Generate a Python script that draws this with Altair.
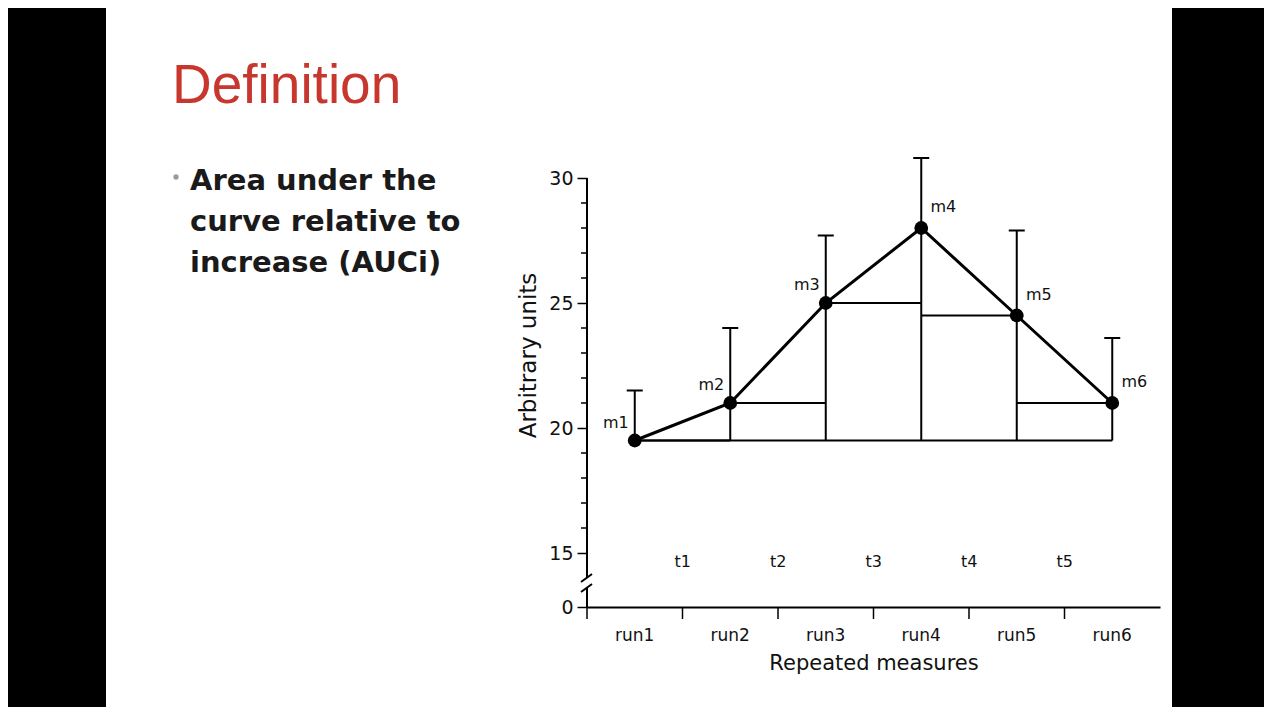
import altair as alt
import pandas as pd

# ---- data ----
runs = ["run1", "run2", "run3", "run4", "run5", "run6"]
means = [19.5, 21.0, 25.0, 28.0, 24.5, 21.0]
upper = [21.5, 24.0, 27.7, 30.8, 27.9, 23.6]
point_labels = ["m1", "m2", "m3", "m4", "m5", "m6"]
interval_labels = ["t1", "t2", "t3", "t4", "t5"]
y_tick_values = [12.84, 15, 20, 25, 30]          # 12.84 is where the broken axis shows "0"
y_minor_ticks = [16, 17, 18, 19, 21, 22, 23, 24, 26, 27, 28, 29]
bullet_lines = ["Area under the", "curve relative to", "increase (AUCi)"]
slide_title = "Definition"

FONT = "DejaVu Sans"
INK = "#111111"

df = pd.DataFrame({
    "run": runs, "mean": means, "upper": upper,
    "label": point_labels, "base": [means[0]] * len(runs), "idx": list(range(len(runs))),
})

step_rows = [{"run": runs[0], "run_next": runs[-1], "level": means[0]}]
for i in range(len(runs) - 1):
    step_rows.append({"run": runs[i], "run_next": runs[i + 1],
                      "level": min(means[i], means[i + 1])})
steps = pd.DataFrame(step_rows)
tdf = pd.DataFrame({"run": runs[:-1], "t": interval_labels})
minor = pd.DataFrame({"v": y_minor_ticks})
one = pd.DataFrame({"a": [0]})

yscale = alt.Scale(domain=[12.84, 30], nice=False, zero=False)
xscale = alt.Scale(domain=runs, paddingInner=0, paddingOuter=0)

xaxis = alt.Axis(
    title="Repeated measures", labelAngle=0, labelFont=FONT, labelFontSize=17,
    labelColor=INK, labelPadding=8, tickSize=12, tickOpacity=0,
    domainColor="black", domainWidth=2,
    titleFont=FONT, titleFontSize=21, titleFontWeight="normal", titleColor=INK,
    titleY=56, titleBaseline="middle", grid=False,
)
yaxis = alt.Axis(
    title="Arbitrary units", values=y_tick_values,
    labelExpr="datum.value < 14 ? '0' : datum.label",
    domain=False, tickSize=10, tickWidth=1.5, tickColor="black",
    labelFont=FONT, labelFontSize=19, labelColor=INK, labelPadding=4, grid=False,
    titleFont=FONT, titleFontSize=23, titleFontWeight="normal", titleColor=INK,
    titleAngle=-90, titleX=-59, titleY=177, titleBaseline="middle",
)

X = alt.X("run:N", scale=xscale, axis=xaxis, sort=runs)

# ---- slide decorations ----
left_bar = alt.Chart(one).mark_rect(color="black").encode(
    x=alt.value(-579), x2=alt.value(-481), y=alt.value(-170), y2=alt.value(529))
right_bar = alt.Chart(one).mark_rect(color="black").encode(
    x=alt.value(585), x2=alt.value(677), y=alt.value(-170), y2=alt.value(529))
title = alt.Chart(one).mark_text(
    font="Liberation Sans", fontSize=55, color="#C8372D", align="left", baseline="alphabetic"
).encode(x=alt.value(-415), y=alt.value(-75), text=alt.value(slide_title))
bullet = alt.Chart(one).mark_point(filled=True, color="#9a9a9a", size=28, opacity=1).encode(
    x=alt.value(-411), y=alt.value(-1))
bullet_text = alt.Chart(one).mark_text(
    font=FONT, fontSize=29, fontWeight="bold", color="#1a1a1a", align="left",
    baseline="alphabetic", lineHeight=41
).encode(x=alt.value(-397), y=alt.value(12), text=alt.value(bullet_lines))

# ---- chart marks ----
step_lines = alt.Chart(steps).mark_rule(color="black", strokeWidth=2).encode(
    x=X, x2="run_next:N", y=alt.Y("level:Q", scale=yscale, axis=yaxis))
err = alt.Chart(df).mark_rule(color="black", strokeWidth=2).encode(
    x=X, y=alt.Y("base:Q", scale=yscale, axis=yaxis), y2="upper:Q")
caps = alt.Chart(df).mark_tick(color="black", size=16, thickness=2, opacity=1).encode(
    x=X, y=alt.Y("upper:Q", scale=yscale, axis=yaxis))
line = alt.Chart(df).mark_line(color="black", strokeWidth=3).encode(
    x=X, y=alt.Y("mean:Q", scale=yscale, axis=yaxis))
points = alt.Chart(df).mark_circle(color="black", size=190, opacity=1).encode(
    x=X, y=alt.Y("mean:Q", scale=yscale, axis=yaxis))
mlab_left = alt.Chart(df).transform_filter("datum.idx < 3").mark_text(
    font=FONT, fontSize=16, color=INK, dx=-19, dy=-18, baseline="middle"
).encode(x=X, y=alt.Y("mean:Q", scale=yscale, axis=yaxis), text="label:N")
mlab_right = alt.Chart(df).transform_filter("datum.idx >= 3").mark_text(
    font=FONT, fontSize=16, color=INK, dx=22, dy=-21, baseline="middle"
).encode(x=X, y=alt.Y("mean:Q", scale=yscale, axis=yaxis), text="label:N")
tlab = alt.Chart(tdf).mark_text(
    font=FONT, fontSize=16, color=INK, dx=48, baseline="middle"
).encode(x=X, y=alt.value(384), text="t:N")

# x-axis ticks at the left edge of each run band (none at the far end)
xticks = alt.Chart(df).mark_rule(color="black", strokeWidth=1.5).encode(
    x=alt.X("run:N", scale=xscale, axis=xaxis, sort=runs, bandPosition=0),
    y=alt.value(429), y2=alt.value(441))

# ---- broken y-axis line ----
axis_top = alt.Chart(one).mark_rule(color="black", strokeWidth=2).encode(
    x=alt.value(0), y=alt.datum(30, scale=yscale), y2=alt.datum(14.0))
axis_bottom = alt.Chart(one).mark_rule(color="black", strokeWidth=2).encode(
    x=alt.value(0), y=alt.datum(13.6, scale=yscale), y2=alt.datum(12.84))
slash1 = alt.Chart(one).mark_rule(color="black", strokeWidth=2).encode(
    x=alt.value(-6), x2=alt.value(5), y=alt.datum(13.84, scale=yscale), y2=alt.datum(14.16))
slash2 = alt.Chart(one).mark_rule(color="black", strokeWidth=2).encode(
    x=alt.value(-6), x2=alt.value(5), y=alt.datum(13.44, scale=yscale), y2=alt.datum(13.76))
minor_ticks = alt.Chart(minor).mark_rule(color="black", strokeWidth=1.5).encode(
    x=alt.value(-6), x2=alt.value(0), y=alt.Y("v:Q", scale=yscale, axis=yaxis))

chart = alt.layer(
    left_bar, right_bar, title, bullet, bullet_text,
    step_lines, err, caps, line, points, mlab_left, mlab_right, tlab, xticks,
    axis_top, axis_bottom, slash1, slash2, minor_ticks,
).properties(
    width=573, height=429,
    padding={"left": 579, "top": 170, "right": 104, "bottom": 100},
    autosize=alt.AutoSizeParams(type="none"),
    background="white",
).configure_view(stroke=None)

chart.save("out.html", embed_options={"renderer": "svg", "actions": False})
